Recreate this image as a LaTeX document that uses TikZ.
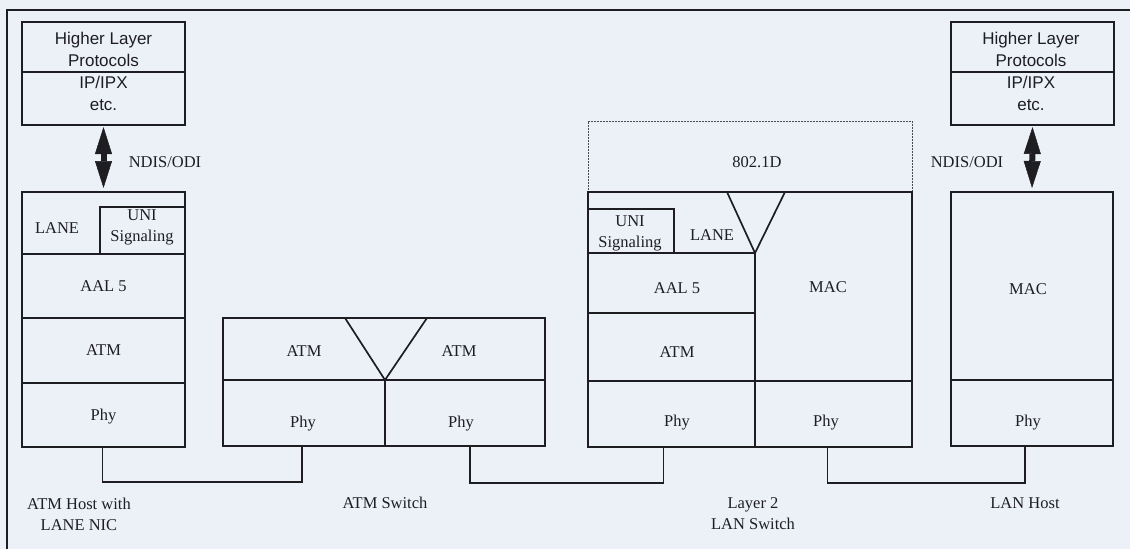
\documentclass[tikz,border=0pt]{standalone}
\usepackage{fontspec}
\setmainfont{Liberation Serif}
\newfontfamily\sansf{Liberation Sans}
\usetikzlibrary{fit,arrows.meta,calc}
\definecolor{bg}{RGB}{236,241,248}
\definecolor{ink}{RGB}{30,30,34}
\tikzset{
  cell/.style={draw=ink, line width=1.7pt, inner sep=0pt, outer sep=0pt},
  lbl/.style={font=\fontsize{16.5}{21}\selectfont, text=ink, inner sep=0pt, align=center},
  slbl/.style={font=\sansf\fontsize{17}{22}\selectfont, text=ink, inner sep=0pt, align=center},
  wire/.style={draw=ink, line width=1.7pt},
  dbl/.style={draw=ink, line width=6pt,
    {Triangle[length=27pt,width=17pt,line width=0.5pt]}-{Triangle[length=27pt,width=17pt,line width=0.5pt]},
    shorten <=2pt, shorten >=4pt},
  dotbox/.style={draw=ink!80, line width=0.8pt, densely dashed, dash pattern=on 2pt off 1pt, inner sep=0pt, outer sep=0pt}
}
\begin{document}
\begin{tikzpicture}[x=1pt,y=-1pt]
\fill[bg] (0,0) rectangle (1130,549);
\useasboundingbox (0,0) rectangle (1130,549);
% outer frame (cut by the page on the right and bottom)
\draw[ink, line width=1.7pt] (7,549) -- (7,10) -- (1130,10);

% ---------- left: higher layer ----------
\node[cell, fit={(22,22) (185,72)}] (hlA) {};
\node[cell, fit={(22,72) (185,125)}] (hlB) {};
\node[slbl] (thlA) at (103.5,49) {Higher Layer\\Protocols};
\node[slbl] (thlB) at (103.5,93) {IP/IPX\\etc.};

% ---------- left: ATM host ----------
\node[cell, fit={(22,192) (185,447)}] (h1) {};
\node[cell, fit={(100,207) (185,254)}] (uni1) {};
\node[cell, fit={(22,254) (185,318)}] (aal1) {};
\node[cell, fit={(22,318) (185,383)}] (atm1) {};
\node[cell, fit={(22,383) (185,447)}] (phy1) {};
\node[lbl] (tlane1) at (57,228) {LANE};
\node[lbl] (tuni1) at (142,227.5) {UNI\\Signaling};
\node[lbl] (taal1) at (103.5,286) {AAL 5};
\node[lbl] (tatm1) at (103.5,350) {ATM};
\node[lbl] (tphy1) at (103.5,417) {Phy};
\draw[dbl] (hlB.south) -- (h1.north);
\node[lbl] (ndis1) at (165,162) {NDIS/ODI};

% ---------- ATM switch ----------
\node[cell, fit={(223,318) (545,446)}] (sw) {};
\node[cell, fit={(223,380) (385,446)}] (phyA) {};
\node[cell, fit={(385,380) (545,446)}] (phyB) {};
\coordinate (vA1) at (345,318);
\coordinate (vA2) at (427,318);
\draw[wire, line join=miter] (vA1) -- (phyA.north east) -- (vA2);
\node[lbl] (tatmA) at (304,351) {ATM};
\node[lbl] (tatmB) at (459,351) {ATM};
\node[lbl] (tphyA) at (303,424) {Phy};
\node[lbl] (tphyB) at (461,424) {Phy};

% ---------- Layer 2 LAN switch ----------
\node[dotbox, fit={(588,121) (912,192)}] (bridge) {};
\node[lbl] (tbridge) at (757,162) {802.1D};
\node[cell, fit={(588,192) (912,447)}] (l2) {};
\node[cell, fit={(588,209) (674,253)}] (uni2) {};
\node[cell, fit={(588,253) (755,313)}] (aal2) {};
\node[cell, fit={(588,313) (755,381)}] (atm2) {};
\node[cell, fit={(588,381) (755,447)}] (phy2a) {};
\node[cell, fit={(755,381) (912,447)}] (phy2b) {};
\coordinate (vB1) at (727,192);
\coordinate (vB2) at (785,192);
\draw[wire, line join=miter] (vB1) -- (aal2.north east) -- (vB2);
\node[lbl] (tuni2) at (630,233) {UNI\\Signaling};
\node[lbl] (tlane2) at (712,235) {LANE};
\node[lbl] (taal2) at (677,288) {AAL 5};
\node[lbl] (tatm2) at (677,352) {ATM};
\node[lbl] (tphy2a) at (677,423) {Phy};
\node[lbl] (tmac2) at (828,287) {MAC};
\node[lbl] (tphy2b) at (826,423) {Phy};

% ---------- right: higher layer ----------
\node[cell, fit={(951,22) (1114,72)}] (hrA) {};
\node[cell, fit={(951,72) (1114,125)}] (hrB) {};
\node[slbl] (thrA) at (1031,49) {Higher Layer\\Protocols};
\node[slbl] (thrB) at (1031,93) {IP/IPX\\etc.};

% ---------- right: LAN host ----------
\node[cell, fit={(951,192) (1113,446)}] (lh) {};
\node[cell, fit={(951,380) (1113,446)}] (phy3) {};
\node[lbl] (tmac3) at (1028,289) {MAC};
\node[lbl] (tphy3) at (1028,423) {Phy};
\draw[dbl] (hrB.south) -- (lh.north);
\node[lbl] (ndis2) at (967,162) {NDIS/ODI};

% ---------- links ----------
\draw[wire] ([xshift=-1pt]phy1.south) -- ++(0,35) -| ([xshift=-2pt]phyA.south);
\draw[wire] ([xshift=5pt]phyB.south) -- ++(0,37) -| ([xshift=-8pt]phy2a.south);
\draw[wire] ([xshift=-6pt]phy2b.south) -- ++(0,36) -| ([xshift=-7pt]phy3.south);

% ---------- captions ----------
\node[lbl] (capA) at (79,514) {ATM Host with\\LANE NIC};
\node[lbl] (capB) at (385,503) {ATM Switch};
\node[lbl] (capC) at (753,514) {Layer 2\\LAN Switch};
\node[lbl] (capD) at (1025,503) {LAN Host};
\end{tikzpicture}
\end{document}
